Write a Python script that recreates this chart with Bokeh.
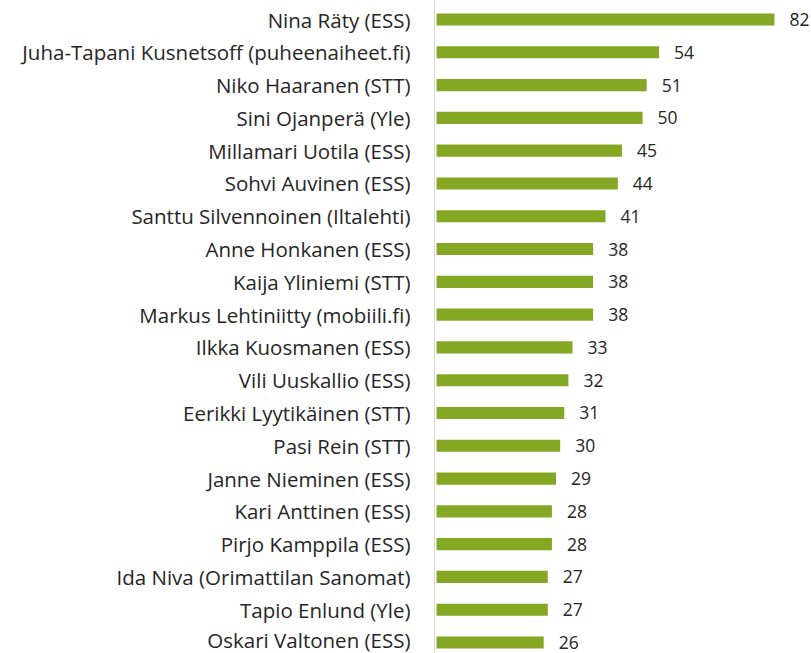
from bokeh.plotting import figure
from bokeh.models import Range1d, ColumnDataSource, FixedTicker, LabelSet
from bokeh.core.properties import value
from bokeh.embed import file_html
from bokeh.resources import INLINE

names = [
    "Nina Räty (ESS)",
    "Juha-Tapani Kusnetsoff (puheenaiheet.fi)",
    "Niko Haaranen (STT)",
    "Sini Ojanperä (Yle)",
    "Millamari Uotila (ESS)",
    "Sohvi Auvinen (ESS)",
    "Santtu Silvennoinen (Iltalehti)",
    "Anne Honkanen (ESS)",
    "Kaija Yliniemi (STT)",
    "Markus Lehtiniitty (mobiili.fi)",
    "Ilkka Kuosmanen (ESS)",
    "Vili Uuskallio (ESS)",
    "Eerikki Lyytikäinen (STT)",
    "Pasi Rein (STT)",
    "Janne Nieminen (ESS)",
    "Kari Anttinen (ESS)",
    "Pirjo Kamppila (ESS)",
    "Ida Niva (Orimattilan Sanomat)",
    "Tapio Enlund (Yle)",
    "Oskari Valtonen (ESS)",
]
values = [82, 54, 51, 50, 45, 44, 41, 38, 38, 38, 33, 32, 31, 30, 29, 28, 28, 27, 27, 26]

pos = list(range(len(names)))
src = ColumnDataSource(dict(y=pos, v=values, t=[str(v) for v in values]))

p = figure(width=811, height=653, output_backend="svg", toolbar_location=None,
           x_range=Range1d(-0.5, 91.0), y_range=Range1d(19.335, -0.58),
           min_border_left=434, min_border_right=0, min_border_top=0, min_border_bottom=0)

p.hbar(y="y", left=0, right="v", height=0.37, source=src, color="#84a823", line_color=None)

labels = LabelSet(x="v", y="y", text="t", source=src, x_offset=15, y_offset=0,
                  text_baseline="middle", text_font=value("Open Sans"),
                  text_font_size="17.5px", text_color="#262626")
p.add_layout(labels)

p.xaxis.visible = False
p.xgrid.visible = False
p.ygrid.visible = False
p.outline_line_color = None

ya = p.yaxis[0]
ya.ticker = FixedTicker(ticks=pos)
ya.major_label_overrides = {i: n for i, n in enumerate(names)}
ya.axis_line_color = "#d9d9d9"
ya.axis_line_width = 1
ya.major_tick_line_color = None
ya.minor_tick_line_color = None
ya.major_label_standoff = 18
ya.major_label_text_font = "Open Sans"
ya.major_label_text_font_size = "20.5px"
ya.major_label_text_color = "#262626"

open("out.html", "w").write(file_html(p, INLINE))
